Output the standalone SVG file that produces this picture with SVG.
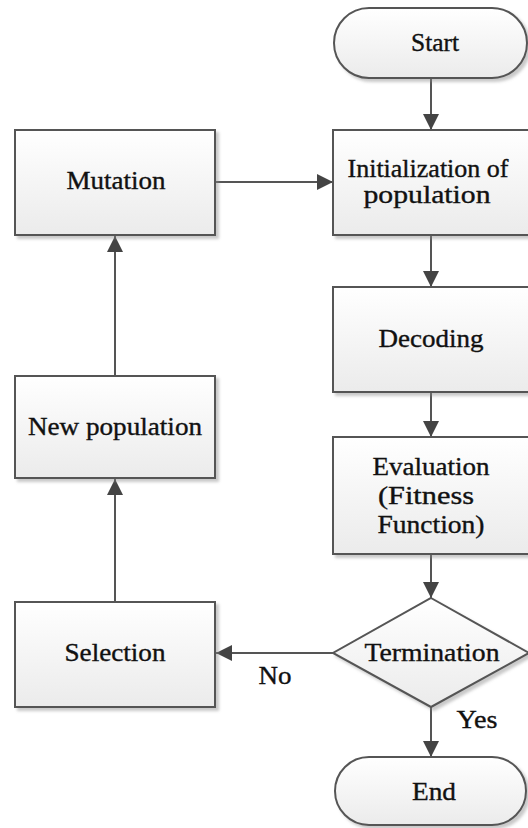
<svg xmlns="http://www.w3.org/2000/svg" width="528" height="828" viewBox="0 0 528 828">
<style>
.shape{fill:url(#g);stroke:#555;stroke-width:2;filter:url(#sh)}
.t{font-family:"Liberation Serif","Times New Roman",serif;font-size:25px;fill:#111;stroke:#111;stroke-width:0.35;text-anchor:middle}
.c{fill:none;stroke:#555;stroke-width:2;marker-end:url(#ah)}
</style>
<defs>
<linearGradient id="g" x1="0" y1="0" x2="0" y2="1">
<stop offset="0" stop-color="#ffffff"/>
<stop offset="1" stop-color="#ebebeb"/>
</linearGradient>
<filter id="sh" x="-10%" y="-10%" width="130%" height="130%">
<feDropShadow dx="3" dy="3" stdDeviation="1.5" flood-color="#888" flood-opacity="0.45"/>
</filter>
<marker id="ah" markerUnits="userSpaceOnUse" markerWidth="16" markerHeight="16" viewBox="0 0 14 14" refX="14" refY="7" orient="auto">
<path d="M0,0 L14,7 L0,14 Z" fill="#444"/>
</marker>
</defs>
<g id="connectors">
<line class="c" x1="431" y1="78" x2="431" y2="130"/>
<line class="c" x1="431" y1="235" x2="431" y2="287"/>
<line class="c" x1="431" y1="392" x2="431" y2="437"/>
<line class="c" x1="431" y1="554" x2="431" y2="598"/>
<line class="c" x1="431" y1="707" x2="431" y2="757"/>
<line class="c" x1="333" y1="653" x2="216" y2="653"/>
<line class="c" x1="115" y1="602" x2="115" y2="479"/>
<line class="c" x1="115" y1="376" x2="115" y2="236"/>
<line class="c" x1="215" y1="182" x2="333" y2="182"/>
<text class="t" x="275" y="684" textLength="33" lengthAdjust="spacingAndGlyphs">No</text>
<text class="t" x="477" y="728" textLength="41" lengthAdjust="spacingAndGlyphs">Yes</text>
</g>
<g id="start">
<rect class="shape" x="334" y="8" width="193" height="70" rx="35" ry="35"/>
<text class="t" x="435" y="51" textLength="48" lengthAdjust="spacingAndGlyphs">Start</text>
</g>
<g id="init">
<rect class="shape" x="333" y="130" width="198" height="105"/>
<text class="t" x="428" y="177" textLength="161" lengthAdjust="spacingAndGlyphs">Initialization of</text>
<text class="t" x="427" y="203" textLength="127" lengthAdjust="spacingAndGlyphs">population</text>
</g>
<g id="decoding">
<rect class="shape" x="333" y="287" width="198" height="105"/>
<text class="t" x="431" y="347" textLength="105" lengthAdjust="spacingAndGlyphs">Decoding</text>
</g>
<g id="evaluation">
<rect class="shape" x="333" y="437" width="198" height="117"/>
<text class="t" x="431" y="475" textLength="117" lengthAdjust="spacingAndGlyphs">Evaluation</text>
<text class="t" x="426" y="504" textLength="96" lengthAdjust="spacingAndGlyphs">(Fitness</text>
<text class="t" x="431" y="533" textLength="107" lengthAdjust="spacingAndGlyphs">Function)</text>
</g>
<g id="termination">
<polygon class="shape" points="431,598 529,653 431,707 333,653"/>
<text class="t" x="432" y="661" textLength="135" lengthAdjust="spacingAndGlyphs">Termination</text>
</g>
<g id="end">
<rect class="shape" x="335" y="757" width="191" height="68" rx="34" ry="34"/>
<text class="t" x="434" y="800" textLength="44" lengthAdjust="spacingAndGlyphs">End</text>
</g>
<g id="mutation">
<rect class="shape" x="15" y="130" width="200" height="105"/>
<text class="t" x="116" y="189" textLength="99" lengthAdjust="spacingAndGlyphs">Mutation</text>
</g>
<g id="newpop">
<rect class="shape" x="15" y="376" width="200" height="102"/>
<text class="t" x="115" y="435" textLength="174" lengthAdjust="spacingAndGlyphs">New population</text>
</g>
<g id="selection">
<rect class="shape" x="15" y="602" width="200" height="105"/>
<text class="t" x="115" y="661" textLength="101" lengthAdjust="spacingAndGlyphs">Selection</text>
</g>
</svg>
